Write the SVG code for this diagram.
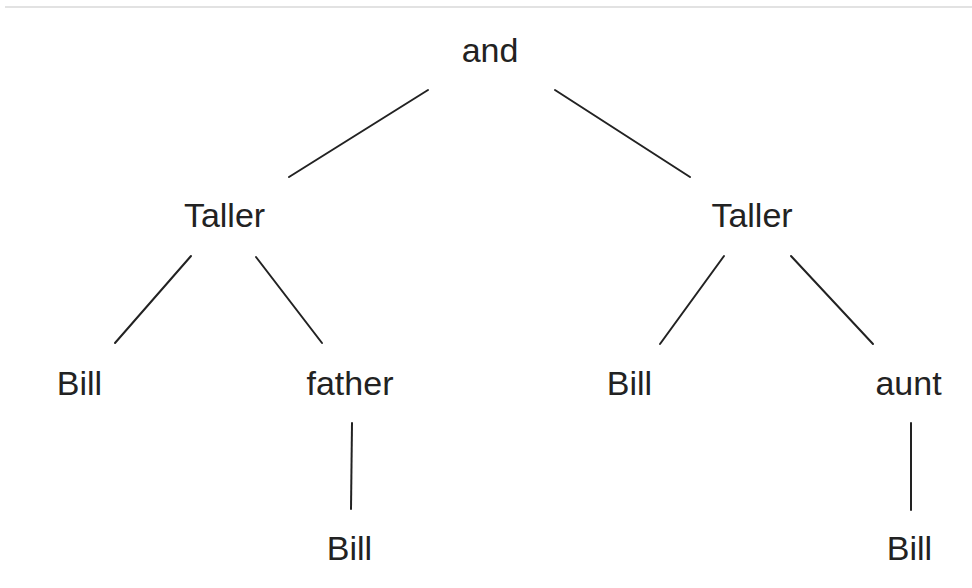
<svg xmlns="http://www.w3.org/2000/svg" width="972" height="588" viewBox="0 0 972 588">
  <style>
    .lbl { font-family: "Liberation Sans", Arial, Helvetica, sans-serif; font-size: 34px; fill: #222; text-anchor: middle; }
    .edge { stroke: #222; stroke-width: 2; stroke-linecap: round; fill: none; }
  </style>
  <rect width="972" height="588" fill="#ffffff"/>
  <!-- page rule across the top -->
  <line x1="5" y1="7" x2="972" y2="7" stroke="#e2e2e2" stroke-width="2"/>

  <g id="connectors">
    <line class="edge" x1="428" y1="90" x2="289" y2="177"/>
    <line class="edge" x1="555" y1="90" x2="690" y2="177"/>
    <line class="edge" x1="191" y1="256" x2="115" y2="343"/>
    <line class="edge" x1="256" y1="257" x2="322" y2="343"/>
    <line class="edge" x1="724" y1="256" x2="660" y2="344"/>
    <line class="edge" x1="791" y1="256" x2="873" y2="344"/>
    <line class="edge" x1="352" y1="423" x2="351" y2="509"/>
    <line class="edge" x1="911" y1="423" x2="911" y2="510"/>
  </g>

  <g id="n-and"><text class="lbl" x="490" y="62">and</text></g>
  <g id="n-taller-left"><text class="lbl" x="224.5" y="227">Taller</text></g>
  <g id="n-taller-right"><text class="lbl" x="752" y="227">Taller</text></g>
  <g id="n-bill-1"><text class="lbl" x="79.5" y="395">Bill</text></g>
  <g id="n-father"><text class="lbl" x="350" y="395">father</text></g>
  <g id="n-bill-2"><text class="lbl" x="629.5" y="395">Bill</text></g>
  <g id="n-aunt"><text class="lbl" x="908.5" y="395">aunt</text></g>
  <g id="n-bill-3"><text class="lbl" x="349.5" y="560">Bill</text></g>
  <g id="n-bill-4"><text class="lbl" x="909.5" y="560">Bill</text></g>
</svg>
